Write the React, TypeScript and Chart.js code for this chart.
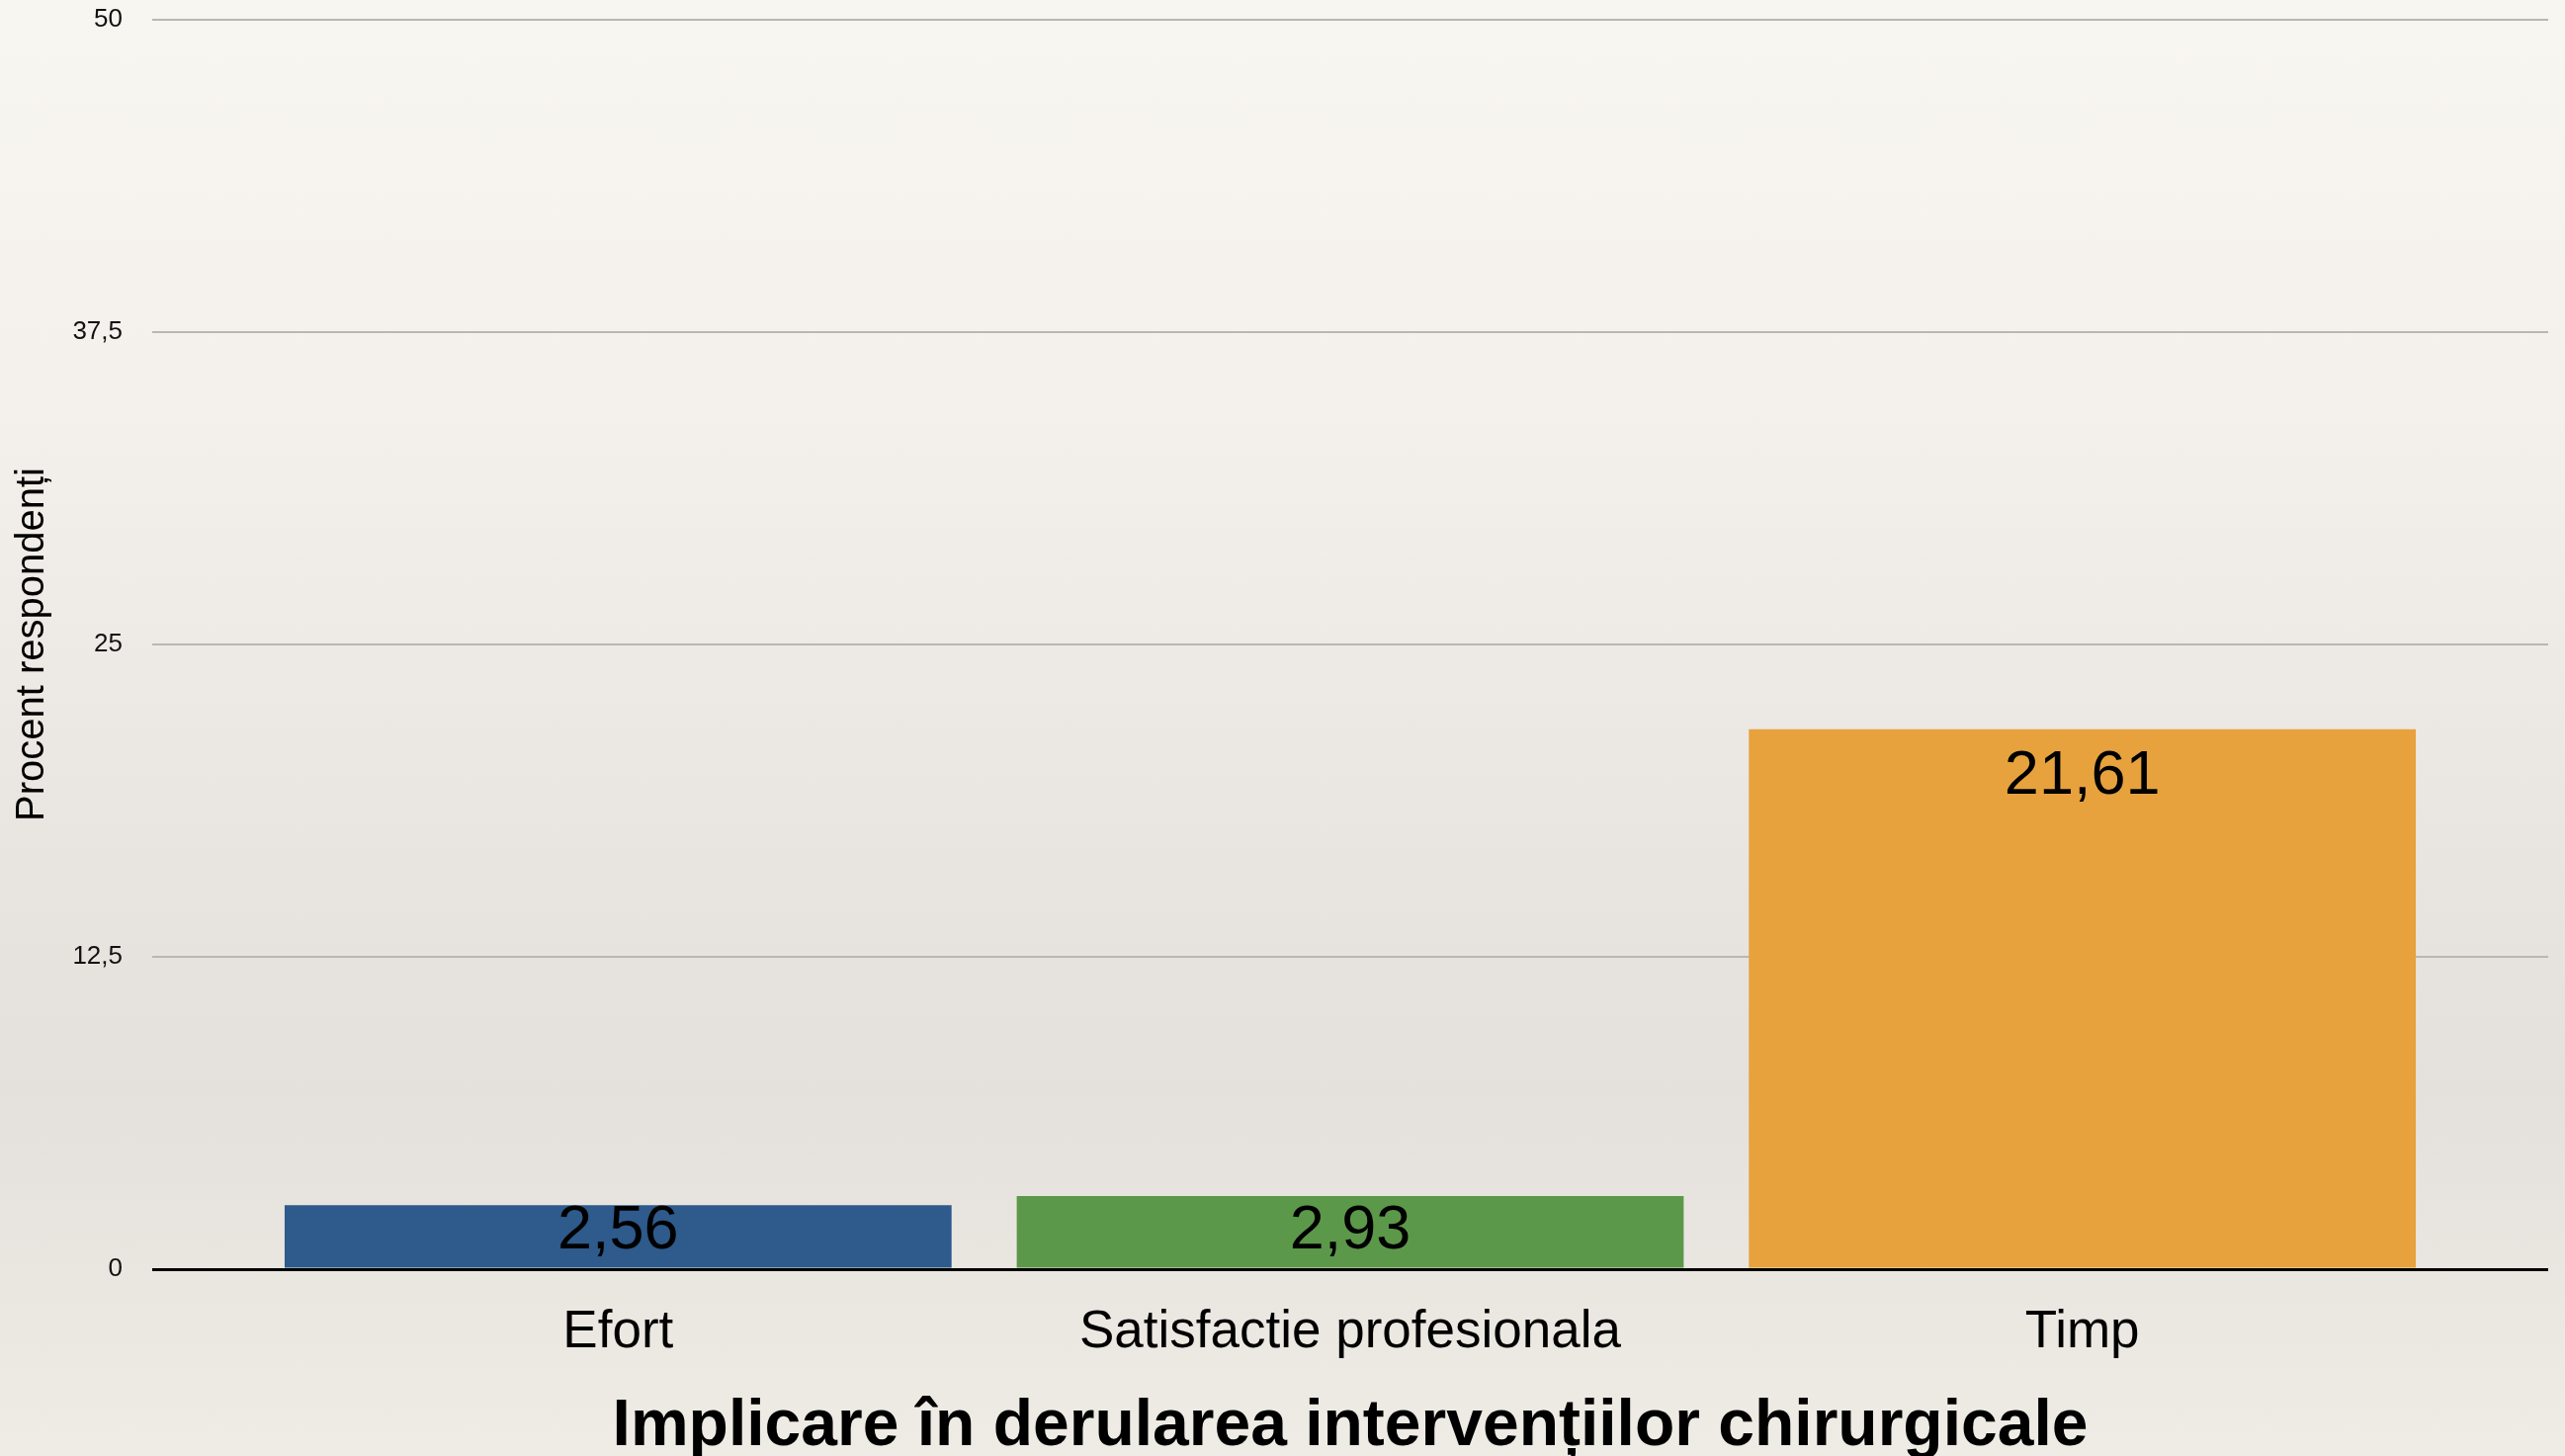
import React, { useEffect, useRef } from "react";
import { Chart, registerables } from "chart.js";

Chart.register(...registerables);

const categories = ["Efort", "Satisfactie profesionala", "Timp"];
const values = [2.56, 2.93, 21.61];
const barColors = ["#2e5a8c", "#5c984a", "#e7a23d"];
const yMin = 0;
const yMax = 50;
const yStep = 12.5;
const yTitle = "Procent respondenți";
const xTitle = "Implicare în derularea intervențiilor chirurgicale";

const FAMILY = '"Liberation Sans", Arial, Helvetica, sans-serif';
const fmt = (v: number) => String(v).replace(".", ",");

const gridColor = (ctx: any) => (ctx.tick && ctx.tick.value === 0 ? "#000000" : "#b9b7b3");
const gridWidth = (ctx: any) => (ctx.tick && ctx.tick.value === 0 ? 3 : 2);

const valueLabels = {
  id: "valueLabels",
  afterDatasetsDraw(chart: any) {
    const meta = chart.getDatasetMeta(0);
    const ctx = chart.ctx;
    ctx.save();
    ctx.font = `63px ${FAMILY}`;
    ctx.fillStyle = "#000000";
    ctx.textAlign = "center";
    ctx.textBaseline = "middle";
    meta.data.forEach((bar: any, i: number) => {
      const { x, y, base } = bar.getProps(["x", "y", "base"], true);
      const cy = Math.min(y + 48, base - 37);
      ctx.fillText(fmt(values[i]), x, cy);
    });
    ctx.restore();
  },
};

export default function App() {
  const ref = useRef<HTMLCanvasElement | null>(null);

  useEffect(() => {
    if (!ref.current) return;
    const chart = new Chart(ref.current, {
      type: "bar",
      data: {
        labels: categories,
        datasets: [
          {
            data: values,
            backgroundColor: barColors,
            borderWidth: 0,
            barPercentage: 0.911,
            categoryPercentage: 1,
            yAxisID: "y",
          },
        ],
      },
      options: {
        responsive: false,
        animation: false,
        devicePixelRatio: 1,
        layout: { padding: { top: 20, left: 0, right: 0, bottom: 0 } },
        plugins: {
          legend: { display: false },
          tooltip: { enabled: false },
        },
        scales: {
          x: {
            grid: { display: false, drawTicks: false },
            border: { display: false },
            ticks: { color: "#000000", font: { size: 53, family: FAMILY }, padding: 33 },
            title: {
              display: true,
              text: xTitle,
              color: "#000000",
              font: { size: 66, weight: "bold", family: FAMILY, lineHeight: 1 },
              padding: { top: 0, bottom: -4 },
            },
            afterFit: (s: any) => {
              s.height = 189;
            },
          },
          y: {
            position: "left",
            min: yMin,
            max: yMax,
            ticks: {
              stepSize: yStep,
              callback: (v: any) => fmt(Number(v)),
              color: "#111111",
              font: { size: 26, family: FAMILY },
              padding: 30,
            },
            grid: { color: gridColor, lineWidth: gridWidth, tickLength: 101, drawTicks: true },
            border: { display: false },
            title: {
              display: true,
              text: yTitle,
              color: "#000000",
              font: { size: 40, family: FAMILY },
              padding: { top: 9, bottom: 0 },
            },
            afterFit: (s: any) => {
              s.width = 255;
              s.paddingTop = 0;
              s.paddingBottom = 0;
            },
          },
          yRight: {
            position: "right",
            min: yMin,
            max: yMax,
            ticks: { display: false, stepSize: yStep },
            grid: {
              drawOnChartArea: false,
              color: gridColor,
              lineWidth: gridWidth,
              tickLength: 101,
              drawTicks: true,
            },
            border: { display: false },
            afterFit: (s: any) => {
              s.width = 118;
              s.paddingTop = 0;
              s.paddingBottom = 0;
            },
          },
        },
      } as any,
      plugins: [valueLabels],
    });
    return () => chart.destroy();
  }, []);

  return (
    <div
      style={{
        position: "fixed",
        left: 0,
        top: 0,
        width: 2595,
        height: 1473,
        background:
          "linear-gradient(180deg, #f8f6f1 0%, #f3f0eb 30%, #e8e5e0 60%, #e4e1dc 75%, #efece6 100%)",
      }}
    >
      <canvas ref={ref} width={2595} height={1473} style={{ display: "block", width: 2595, height: 1473 }} />
    </div>
  );
}
